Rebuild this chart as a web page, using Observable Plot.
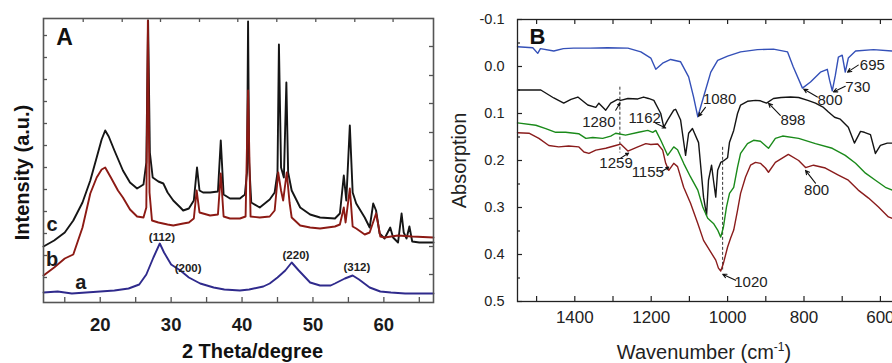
<!DOCTYPE html>
<html><head><meta charset="utf-8">
<script src="https://cdn.jsdelivr.net/npm/d3@7"></script>
<script src="https://cdn.jsdelivr.net/npm/@observablehq/plot@0.6"></script>
<style>
html,body{margin:0;padding:0;background:#fff;}
#wrap{position:relative;width:892px;height:363px;overflow:hidden;background:#fff;}
#pa{position:absolute;left:0;top:0;width:440px;height:363px;}
#pb{position:absolute;left:440px;top:0;width:470px;height:363px;}
#wrap svg{max-width:none !important;display:block;}
</style></head><body><div id="wrap"><div id="pa"></div><div id="pb"></div></div>
<script>
// ---------- Panel A : XRD (2 theta in degrees, intensity in a.u.) ----------
const xrdC = [[12.0,56],[13.5,62],[15.0,70],[16.2,82],[17.5,100],[18.6,122],[19.5,145],[20.2,163],[20.7,172],[21.2,166],[22.0,152],[23.2,132],[24.2,120],[25.2,114],[26.1,118],[26.5,140],[26.75,282],[27.0,150],[27.4,125],[28.2,121],[28.9,119],[29.5,110],[30.3,102],[31.3,95],[31.7,92],[32.5,94],[33.2,102],[33.65,135],[34.0,112],[34.5,110],[35.5,110],[36.6,111],[37.0,162],[37.4,108],[38.3,104],[39.7,104],[40.4,108],[40.7,130],[40.85,281],[41.0,140],[41.3,100],[42.5,95],[43.9,103],[44.6,110],[45.0,130],[45.2,258],[45.5,135],[45.9,125],[46.25,220],[46.5,130],[47.0,112],[48.2,95],[49.6,88],[51.0,85],[53.1,84],[53.8,89],[54.35,127],[54.7,102],[55.2,177],[55.6,110],[56.1,99],[57.3,85],[58.0,75],[58.5,99],[58.9,92],[59.4,69],[60.1,64],[60.9,75],[61.3,65],[62.0,60],[62.5,89],[62.8,70],[63.2,64],[63.6,76],[64.0,61],[65.0,60],[67.0,60]];
const xrdB = [[12.0,27],[13.5,35],[15.0,44],[16.2,48],[17.5,75],[18.6,109],[19.5,125],[20.2,133],[20.7,135],[21.5,125],[22.5,112],[23.2,105],[24.2,93],[25.2,86],[26.1,85],[26.5,95],[26.72,282],[26.95,110],[27.3,82],[28.2,80],[29.5,78],[30.3,77],[31.7,79],[32.5,80],[33.2,84],[33.6,112],[34.0,90],[35.5,87],[36.6,88],[37.0,129],[37.4,86],[38.3,84],[39.7,84],[40.5,86],[40.85,212],[41.2,86],[42.5,85],[43.9,86],[44.6,92],[45.1,130],[45.5,112],[45.8,102],[46.3,130],[46.7,100],[47.0,85],[48.2,77],[49.6,75],[51.0,74],[53.1,76],[53.8,78],[54.35,95],[54.6,80],[55.2,114],[55.6,76],[56.1,74],[57.3,68],[58.0,70],[58.9,89],[59.2,78],[59.5,66],[60.1,65],[62.0,67],[64.0,66],[67.0,65]];
const xrdA = [[12.0,10],[14.0,11],[16.0,9],[18.0,10],[20.0,11],[22.0,12],[24.0,14],[25.5,18],[26.5,28],[27.5,45],[28.4,59],[29.0,50],[30.0,38],[31.3,32],[32.5,25],[34.1,19],[36.0,15],[37.5,13],[39.7,12],[41.0,13],[43.0,16],[43.9,19],[45.0,25],[46.1,32],[47.0,40],[48.0,32],[49.6,20],[51.0,17],[52.5,17],[53.1,19],[54.5,24],[55.6,27],[56.5,23],[58.0,15],[59.5,11],[61.0,10],[63.0,9],[67.0,9]];
const curveLabelsA = [{t:"c",x:13.2,y:78},{t:"b",x:13.2,y:43},{t:"a",x:17.25,y:20}];
const hklLabels = [{t:"(112)",x:28.7,y:65},{t:"(200)",x:32.4,y:34},{t:"(220)",x:47.6,y:47},{t:"(312)",x:56.2,y:35}];
const xLabelsA = [20,30,40,50,60];
const xTicksA = [15,20,25,30,35,40,45,50,55,60,65];
const xTopTicksA = [17.6,23.1,28.5,34.0,39.4,44.9,50.4,55.9,61.3];
const yLeftTicksA = [25,47,69,91,113,135,157,179,201,223,245,267];
const yRightTicksA = [28,56,84,113,142,170,199,227,256];
const xTitleA = "2 Theta/degree";
const yTitleA = "Intensity (a.u.)";

// ---------- Panel B : FTIR (wavenumber cm-1, absorption) ----------
const ftirBlue = [[1550,-0.042],[1510,-0.040],[1497,-0.028],[1490,-0.038],[1455,-0.033],[1430,-0.038],[1403,-0.039],[1360,-0.039],[1314,-0.040],[1261,-0.039],[1227,-0.031],[1201,-0.018],[1188,0.006],[1170,-0.007],[1149,-0.015],[1123,-0.010],[1102,0.022],[1089,0.065],[1078,0.107],[1063,0.065],[1044,0.012],[1026,-0.013],[1000,-0.022],[966,-0.031],[922,-0.036],[880,-0.037],[843,-0.031],[828,0.001],[804,0.046],[783,0.033],[757,0.012],[739,0.006],[733,0.029],[726,0.052],[718,0.019],[710,-0.020],[700,-0.024],[692,0.012],[684,-0.018],[665,-0.033],[618,-0.036],[569,-0.033]];
const ftirBlack = [[1550,0.050],[1489,0.050],[1455,0.067],[1429,0.078],[1410,0.070],[1392,0.065],[1366,0.082],[1345,0.087],[1337,0.078],[1319,0.093],[1306,0.078],[1288,0.070],[1280,0.072],[1261,0.068],[1235,0.069],[1220,0.065],[1207,0.068],[1193,0.072],[1175,0.100],[1167,0.129],[1157,0.114],[1141,0.093],[1136,0.091],[1123,0.114],[1110,0.189],[1102,0.142],[1092,0.132],[1076,0.162],[1063,0.278],[1055,0.316],[1050,0.242],[1042,0.210],[1037,0.242],[1031,0.278],[1026,0.221],[1018,0.204],[1011,0.201],[1000,0.194],[995,0.161],[984,0.136],[974,0.100],[966,0.082],[948,0.074],[927,0.072],[914,0.073],[898,0.078],[880,0.068],[860,0.066],[835,0.065],[814,0.066],[790,0.072],[770,0.078],[749,0.087],[736,0.097],[720,0.108],[705,0.112],[684,0.129],[668,0.163],[652,0.138],[642,0.140],[626,0.145],[613,0.185],[600,0.168],[582,0.163],[569,0.163]];
const ftirGreen = [[1550,0.120],[1502,0.125],[1476,0.132],[1450,0.140],[1424,0.140],[1390,0.143],[1371,0.153],[1353,0.151],[1327,0.153],[1306,0.148],[1293,0.142],[1267,0.146],[1233,0.140],[1209,0.136],[1196,0.140],[1188,0.136],[1175,0.157],[1157,0.189],[1141,0.171],[1131,0.177],[1115,0.206],[1097,0.235],[1078,0.263],[1065,0.299],[1052,0.323],[1037,0.334],[1026,0.348],[1018,0.363],[1011,0.342],[1003,0.299],[995,0.270],[984,0.257],[974,0.214],[966,0.185],[948,0.164],[932,0.157],[914,0.159],[893,0.174],[875,0.153],[856,0.148],[814,0.153],[770,0.164],[726,0.174],[692,0.189],[665,0.206],[639,0.227],[613,0.242],[587,0.257],[569,0.263]];
const ftirRed = [[1550,0.141],[1520,0.142],[1494,0.153],[1468,0.168],[1442,0.171],[1416,0.169],[1390,0.171],[1376,0.182],[1363,0.185],[1345,0.178],[1319,0.174],[1293,0.168],[1280,0.165],[1261,0.180],[1235,0.171],[1214,0.164],[1201,0.166],[1183,0.165],[1170,0.178],[1162,0.206],[1154,0.221],[1141,0.206],[1131,0.213],[1115,0.257],[1097,0.291],[1078,0.334],[1063,0.370],[1044,0.395],[1031,0.412],[1024,0.429],[1018,0.435],[1011,0.419],[1000,0.384],[992,0.365],[984,0.348],[974,0.306],[966,0.270],[953,0.235],[940,0.210],[927,0.204],[914,0.206],[901,0.216],[893,0.225],[875,0.204],[841,0.187],[814,0.200],[796,0.215],[775,0.210],[744,0.216],[710,0.231],[684,0.242],[658,0.263],[631,0.280],[605,0.299],[579,0.320],[569,0.323]];
const bandLabels = [{t:"1080",w:1021,a:0.069},{t:"800",w:732,a:0.072},{t:"730",w:659,a:0.044},{t:"695",w:621,a:-0.002},{t:"1280",w:1337,a:0.119},{t:"1162",w:1217,a:0.111},{t:"898",w:829,a:0.114},{t:"1259",w:1292,a:0.206},{t:"1155",w:1209,a:0.225},{t:"1020",w:939,a:0.459},{t:"800",w:767,a:0.264}];
const bandArrows = [{w1:1058,a1:0.087,w2:1076,a2:0.106},{w1:765,a1:0.065,w2:801,a2:0.048},{w1:692,a1:0.042,w2:723,a2:0.054},{w1:658,a1:-0.003,w2:686,a2:0.012},{w1:1293,a1:0.093,w2:1282,a2:0.078},{w1:1188,a1:0.121,w2:1162,a2:0.131},{w1:862,a1:0.104,w2:893,a2:0.078},{w1:1280,a1:0.195,w2:1259,a2:0.184},{w1:1175,a1:0.225,w2:1154,a2:0.214},{w1:979,a1:0.455,w2:1013,a2:0.442},{w1:770,a1:0.248,w2:796,a2:0.221}];
const dashLines = [{w:1282,a1:0.044,a2:0.184},{w:1013,a1:0.172,a2:0.433}];
const xLabelsB = [1400,1200,1000,800,600];
const xTicksB = [1500,1400,1300,1200,1100,1000,900,800,700,600];
const yLabelsB = [-0.1,0.0,0.1,0.2,0.3,0.4,0.5];
const yMinorB = [-0.05,0.05,0.15,0.25,0.35,0.45];
const xTitleB = "Wavenumber (cm-1)";
const yTitleB = "Absorption";

const font = "'Liberation Sans', Arial, Helvetica, sans-serif";
const pt = d => ({x: d[0], y: d[1]});

// ---------- Panel A ----------
const fwA = 390, fhA = 284;
const plotA = Plot.plot({
  width: 440, height: 363,
  marginLeft: 43, marginRight: 7, marginTop: 18, marginBottom: 61,
  x: {domain: [12, 67]},
  y: {domain: [0, 284], axis: null},
  style: {fontFamily: font, background: "transparent", color: "#1a1a1a"},
  marks: [
    Plot.line(xrdC.map(pt), {x: "x", y: "y", stroke: "#151515", strokeWidth: 1.9}),
    Plot.line(xrdB.map(pt), {x: "x", y: "y", stroke: "#8c1a14", strokeWidth: 1.9}),
    Plot.line(xrdA.map(pt), {x: "x", y: "y", stroke: "#2f2a8c", strokeWidth: 1.9}),
    Plot.frame({stroke: "#555", strokeWidth: 1.6}),
    Plot.tickX(xTicksA, {x: d => d, insetTop: fhA - 5, stroke: "#555", strokeWidth: 1.3}),
    Plot.tickX(xTopTicksA, {x: d => d, insetBottom: fhA - 4, stroke: "#555", strokeWidth: 1.3}),
    Plot.tickY(yLeftTicksA, {y: d => d, insetRight: fwA - 4, stroke: "#555", strokeWidth: 1.3}),
    Plot.tickY(yRightTicksA, {y: d => d, insetLeft: fwA - 4, stroke: "#555", strokeWidth: 1.3}),
    Plot.axisX(xLabelsA, {tickSize: 0, tickPadding: 15, fontSize: 18.5, fontWeight: "bold", fill: "#1a1a1a", tickFormat: d => String(d), label: null}),
    Plot.text(curveLabelsA, {x: "x", y: "y", text: "t", fontSize: 20, fontWeight: "bold", fill: "#1a1a1a"}),
    Plot.text(hklLabels, {x: "x", y: "y", text: "t", fontSize: 11.5, fontWeight: "bold", fill: "#222"}),
    Plot.text(["A"], {text: d => d, frameAnchor: "top-left", textAnchor: "middle", lineAnchor: "middle", dx: 21, dy: 19.6, fontSize: 23, fontWeight: "bold", fill: "#111"}),
    Plot.text([xTitleA], {text: d => d, frameAnchor: "bottom", textAnchor: "middle", lineAnchor: "middle", dx: 14, dy: 48.6, fontSize: 20, fontWeight: "bold", fill: "#111"}),
    Plot.text([yTitleA], {text: d => d, frameAnchor: "left", textAnchor: "middle", lineAnchor: "middle", rotate: -90, dx: -21.4, dy: 12, fontSize: 20, fontWeight: "bold", fill: "#111"})
  ]
});
document.getElementById("pa").appendChild(plotA);

// ---------- Panel B ----------
const fwB = 382, fhB = 282;
const pw = d => ({w: d[0], a: d[1]});
const plotB = Plot.plot({
  width: 470, height: 363,
  marginLeft: 77, marginRight: 11, marginTop: 19, marginBottom: 62,
  x: {domain: [1550, 550]},
  y: {domain: [0.5, -0.1]},
  style: {fontFamily: font, background: "transparent", color: "#222"},
  marks: [
    Plot.ruleX(dashLines, {x: "w", y1: "a1", y2: "a2", stroke: "#333", strokeWidth: 1, strokeDasharray: "3,2"}),
    Plot.line(ftirBlue.map(pw), {x: "w", y: "a", stroke: "#3450b8", strokeWidth: 1.4}),
    Plot.line(ftirBlack.map(pw), {x: "w", y: "a", stroke: "#141414", strokeWidth: 1.4}),
    Plot.line(ftirGreen.map(pw), {x: "w", y: "a", stroke: "#1a8a1a", strokeWidth: 1.4}),
    Plot.line(ftirRed.map(pw), {x: "w", y: "a", stroke: "#8a1c1c", strokeWidth: 1.4}),
    Plot.frame({stroke: "#222", strokeWidth: 1.3}),
    Plot.tickX(xTicksB, {x: d => d, insetTop: fhB - 5, stroke: "#222", strokeWidth: 1.2}),
    Plot.tickX(xTicksB, {x: d => d, insetBottom: fhB - 5, stroke: "#222", strokeWidth: 1.2}),
    Plot.tickY(yLabelsB, {y: d => d, insetRight: fwB - 5, stroke: "#222", strokeWidth: 1.2}),
    Plot.tickY(yMinorB, {y: d => d, insetRight: fwB - 3, stroke: "#222", strokeWidth: 1.2}),
    Plot.arrow(bandArrows, {x1: "w1", y1: "a1", x2: "w2", y2: "a2", stroke: "#111", strokeWidth: 1.1, headLength: 6, headAngle: 50}),
    Plot.text(bandLabels, {x: "w", y: "a", text: "t", fontSize: 15, fill: "#222"}),
    Plot.axisX(xLabelsB, {tickSize: 0, tickPadding: 9, fontSize: 17, fill: "#222", tickFormat: d => String(d), label: null}),
    Plot.axisY(yLabelsB, {tickSize: 0, tickPadding: 13, fontSize: 14.5, fill: "#222", tickFormat: d => d.toFixed(1), label: null}),
    Plot.text(["B"], {text: d => d, frameAnchor: "top-left", textAnchor: "middle", lineAnchor: "middle", dx: 20, dy: 17, fontSize: 22, fontWeight: "bold", fill: "#111"}),
    Plot.text([xTitleB], {text: d => d, frameAnchor: "bottom", textAnchor: "middle", lineAnchor: "middle", dx: -4.5, dy: 50.6, fontSize: 20, fill: "#222"}),
    Plot.text([yTitleB], {text: d => d, frameAnchor: "left", textAnchor: "middle", lineAnchor: "middle", rotate: -90, dx: -58.4, dy: 0, fontSize: 20, fill: "#222"})
  ]
});
document.getElementById("pb").appendChild(plotB);

// superscript for the cm-1 unit
const NS = "http://www.w3.org/2000/svg";
plotB.querySelectorAll("text").forEach(el => {
  if (el.textContent === xTitleB) {
    el.textContent = "";
    const a = document.createElementNS(NS, "tspan"); a.textContent = "Wavenumber (cm";
    const b = document.createElementNS(NS, "tspan"); b.textContent = "-1"; b.setAttribute("dy", "-8"); b.setAttribute("font-size", "12");
    const c = document.createElementNS(NS, "tspan"); c.textContent = ")"; c.setAttribute("dy", "8");
    el.appendChild(a); el.appendChild(b); el.appendChild(c);
  }
});
</script></body></html>
